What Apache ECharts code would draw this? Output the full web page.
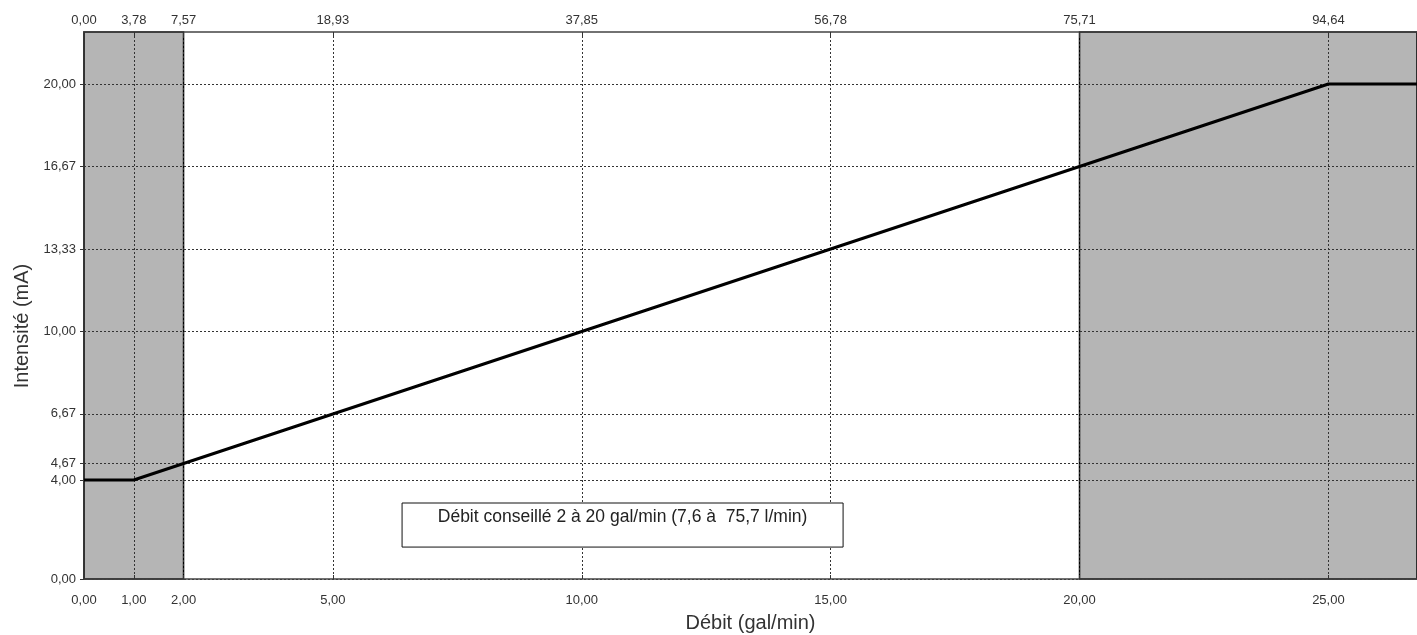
<!DOCTYPE html>
<html>
<head>
<meta charset="utf-8">
<script src="https://cdn.jsdelivr.net/npm/echarts@6/dist/echarts.min.js"></script>
<style>html,body{margin:0;padding:0;background:#fff}#c{width:1417px;height:635px}</style>
</head>
<body>
<div id="c"></div>
<script>
// ---- data ----
const galTicks = [0, 1, 2, 5, 10, 15, 20, 25];
const litreLabels = ['0,00', '3,78', '7,57', '18,93', '37,85', '56,78', '75,71', '94,64'];
const yTicks = [0, 4, 4.67, 6.67, 10, 13.33, 16.67, 20];
const flowGal = [0, 1, 25, 27];
const currentMA = [4, 4, 20, 20];
const shadedZones = [[0, 2], [20, 27]];
const xMax = 26.78;
const yMax = 22.1;
const noteText = 'Débit conseillé 2 à 20 gal/min (7,6 à  75,7 l/min)';
const noteX = [6.39, 15.25];
const noteY = [1.29, 3.07];
const xTitle = 'Débit (gal/min)';
const xTopTitle = 'Débit (l/min)';
const yTitle = 'Intensité (mA)';

const fmt = v => v.toFixed(2).replace('.', ',');
const FONT = 'Liberation Sans, Arial, sans-serif';
const gridDot = { color: '#333', width: 1, type: [2, 2] };
const LBL = 13;

const chart = echarts.init(document.getElementById('c'), null, { renderer: 'canvas' });
chart.setOption({
  animation: false,
  textStyle: { fontFamily: FONT },
  grid: { left: 84, right: 0, top: 32, bottom: 56, containLabel: false, outerBoundsMode: 'none' },
  xAxis: [
    {
      type: 'value', position: 'bottom', min: 0, max: xMax, z: 3,
      name: xTitle, nameLocation: 'middle', nameGap: 34,
      nameTextStyle: { fontSize: 20, color: '#333', fontFamily: FONT },
      axisLine: { show: true, lineStyle: { color: '#444', width: 1.5 } },
      axisTick: { show: true, inside: true, length: 4, customValues: galTicks, lineStyle: { color: '#333' } },
      axisLabel: { customValues: galTicks, formatter: v => fmt(v), fontSize: LBL, color: '#333', margin: 15, fontFamily: FONT },
      splitLine: { show: true, lineStyle: gridDot }
    },
    {
      type: 'value', position: 'top', min: 0, max: xMax, z: 3,
      axisLine: { show: true, lineStyle: { color: '#444', width: 1.5 } },
      axisTick: { show: true, inside: true, length: 4, customValues: galTicks, lineStyle: { color: '#333' } },
      axisLabel: { customValues: galTicks, formatter: v => litreLabels[galTicks.indexOf(v)] || '', fontSize: LBL, color: '#333', margin: 5, fontFamily: FONT },
      splitLine: { show: false }
    }
  ],
  yAxis: {
    type: 'value', min: 0, max: yMax, z: 3,
    axisLine: { show: true, lineStyle: { color: '#333', width: 1.5 } },
    axisTick: { show: true, inside: false, length: 4, customValues: yTicks, lineStyle: { color: '#333' } },
    axisLabel: { customValues: yTicks, formatter: v => fmt(v), fontSize: LBL, color: '#333', margin: 8, fontFamily: FONT },
    splitLine: { show: true, lineStyle: gridDot }
  },
  graphic: [
    { type: 'text', rotation: Math.PI / 2, x: 22, y: 326, z: 10,
      style: { text: yTitle, font: '20px ' + FONT, fill: '#333', textAlign: 'center', textVerticalAlign: 'middle' } },
    { type: 'text', x: 826, y: -12, z: 10,
      style: { text: xTopTitle, font: '20px ' + FONT, fill: '#333', textAlign: 'right', textVerticalAlign: 'middle' } }
  ],
  series: [
    {
      type: 'line', name: 'zones', data: [], z: 1, silent: true,
      markArea: {
        silent: true,
        itemStyle: { color: '#b5b5b5', borderColor: '#000', borderWidth: 1.5 },
        data: shadedZones.map(z => [{ xAxis: z[0], yAxis: 0 }, { xAxis: z[1], yAxis: yMax }])
      }
    },
    {
      type: 'custom', name: 'note', z: 6, silent: true,
      data: [[noteX[0], noteY[1], noteX[1], noteY[0]]],
      renderItem: (params, api) => {
        const p0 = api.coord([api.value(0), api.value(1)]);
        const p1 = api.coord([api.value(2), api.value(3)]);
        const w = p1[0] - p0[0], h = p1[1] - p0[1];
        return {
          type: 'group',
          children: [
            { type: 'rect', shape: { x: p0[0], y: p0[1], width: w, height: h },
              style: { fill: '#fff', stroke: '#111', lineWidth: 1 } },
            { type: 'text', x: p0[0] + w / 2, y: p0[1] + 5,
              style: { text: noteText, font: '17.5px ' + FONT, fill: '#222', textAlign: 'center', textVerticalAlign: 'top' } }
          ]
        };
      }
    },
    {
      type: 'line', name: 'courant', z: 7,
      data: flowGal.map((x, i) => [x, currentMA[i]]),
      showSymbol: false, symbol: 'none', clip: true,
      lineStyle: { color: '#000', width: 3 }
    }
  ]
});
</script>
</body>
</html>
